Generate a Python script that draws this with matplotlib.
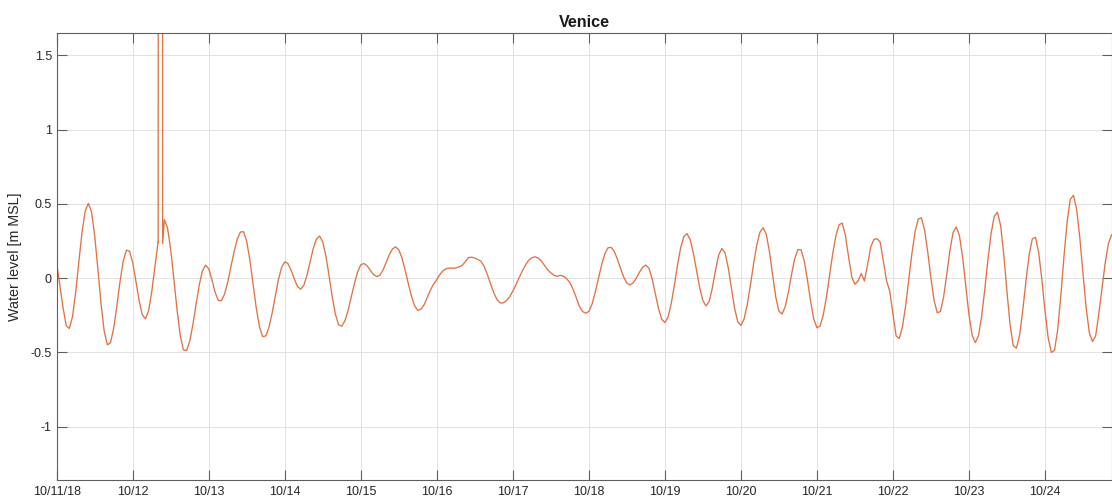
import numpy as np
import pandas as pd
import matplotlib
matplotlib.use("Agg")
import matplotlib.pyplot as plt

# ---------------- data (hourly water level, m MSL, from 2018-10-11 00:00) ----------------
start = pd.Timestamp("2018-10-11 00:00")

level = [
    0.10, -0.05, -0.20, -0.32, -0.34, -0.259, -0.095, 0.111, 0.308, 0.451, 0.503, 0.445,
    0.284, 0.060, -0.173, -0.358, -0.450, -0.434, -0.338, -0.188, -0.023, 0.114, 0.188, 0.181,
    0.103, -0.020, -0.150, -0.246, -0.275, -0.222, -0.093, 0.077, 0.242, 3.0, 0.394, 0.335,
    0.190, -0.008, -0.216, -0.387, -0.484, -0.488, -0.425, -0.313, -0.177, -0.047, 0.048, 0.087,
    0.062, -0.010, -0.095, -0.151, -0.153, -0.108, -0.027, 0.074, 0.177, 0.261, 0.310, 0.312,
    0.246, 0.119, -0.041, -0.201, -0.327, -0.394, -0.390, -0.333, -0.237, -0.122, -0.011, 0.072,
    0.109, 0.098, 0.053, -0.006, -0.056, -0.075, -0.050, 0.017, 0.109, 0.199, 0.262, 0.283,
    0.243, 0.147, 0.014, -0.127, -0.245, -0.315, -0.324, -0.287, -0.218, -0.128, -0.036, 0.041,
    0.089, 0.098, 0.082, 0.052, 0.024, 0.010, 0.018, 0.053, 0.104, 0.157, 0.196, 0.210,
    0.190, 0.135, 0.054, -0.037, -0.123, -0.187, -0.218, -0.21, -0.18, -0.13, -0.08, -0.04,
    -0.01, 0.025, 0.05, 0.063, 0.068, 0.066, 0.067, 0.075, 0.085, 0.11, 0.138, 0.14,
    0.135, 0.125, 0.112, 0.075, 0.021, -0.041, -0.100, -0.145, -0.168, -0.167, -0.152, -0.125,
    -0.088, -0.044, 0.003, 0.048, 0.088, 0.119, 0.137, 0.143, 0.135, 0.115, 0.085, 0.055,
    0.035, 0.018, 0.012, 0.018, 0.012, -0.005, -0.03, -0.075, -0.13, -0.19, -0.225, -0.237,
    -0.225, -0.176, -0.098, -0.005, 0.087, 0.160, 0.203, 0.207, 0.180, 0.128, 0.066, 0.007,
    -0.034, -0.047, -0.033, 0.000, 0.040, 0.073, 0.087, 0.065, -0.007, -0.107, -0.206, -0.277,
    -0.300, -0.263, -0.173, -0.048, 0.088, 0.205, 0.280, 0.299, 0.258, 0.167, 0.050, -0.066,
    -0.152, -0.188, -0.158, -0.065, 0.054, 0.156, 0.199, 0.169, 0.070, -0.067, -0.202, -0.295,
    -0.319, -0.276, -0.180, -0.048, 0.095, 0.221, 0.308, 0.339, 0.296, 0.179, 0.023, -0.126,
    -0.223, -0.242, -0.192, -0.094, 0.025, 0.131, 0.192, 0.190, 0.116, -0.012, -0.155, -0.275,
    -0.335, -0.323, -0.250, -0.129, 0.018, 0.165, 0.286, 0.359, 0.370, 0.287, 0.142, 0.008,
    -0.042, -0.02, 0.03, -0.02, 0.09, 0.21, 0.26, 0.265, 0.24, 0.11, -0.02, -0.09,
    -0.24, -0.39, -0.407, -0.329, -0.188, -0.011, 0.167, 0.313, 0.398, 0.405, 0.323, 0.173,
    -0.002, -0.152, -0.234, -0.225, -0.128, 0.026, 0.188, 0.307, 0.344, 0.284, 0.138, -0.055,
    -0.246, -0.385, -0.435, -0.389, -0.260, -0.076, 0.126, 0.302, 0.416, 0.443, 0.352, 0.154,
    -0.092, -0.317, -0.456, -0.472, -0.382, -0.216, -0.019, 0.157, 0.264, 0.274, 0.174, -0.008,
    -0.220, -0.402, -0.501, -0.487, -0.349, -0.120, 0.146, 0.381, 0.531, 0.557, 0.462, 0.271,
    0.030, -0.201, -0.368, -0.428, -0.39, -0.24, -0.07, 0.10, 0.23, 0.29,
]

# extra readings around the sensor glitch (hours from start, level)
spike_hours = [32.04, 32.06, 33.42, 33.45]
spike_level = [0.24, 3.0, 3.0, 0.233]

day_labels = ["10/11/18", "10/12", "10/13", "10/14", "10/15", "10/16", "10/17",
              "10/18", "10/19", "10/20", "10/21", "10/22", "10/23", "10/24"]
y_ticks = [-1, -0.5, 0, 0.5, 1, 1.5]
y_tick_labels = ["-1", "-0.5", "0", "0.5", "1", "1.5"]

title = "Venice"
ylabel = "Water level [m MSL]"

# ---------------- build series ----------------
hours = np.concatenate([np.arange(len(level), dtype=float), np.array(spike_hours)])
vals = np.concatenate([np.array(level), np.array(spike_level)])
order = np.argsort(hours, kind="stable")
times = (start + pd.to_timedelta(hours[order], unit="h")).to_pydatetime()
vals = vals[order]

# ---------------- figure ----------------
plt.rcParams["font.family"] = ["Liberation Sans", "DejaVu Sans"]
W, H = 1112, 497
fig = plt.figure(figsize=(W / 100, H / 100), dpi=100)
ax = fig.add_axes([56.7 / W, 1 - 480 / H, (1111.5 - 56.7) / W, (480 - 33) / H])

ax.plot(times, vals, color="#E07245", lw=0.95, solid_joinstyle="round")

ax.set_xlim(start.to_pydatetime(), (start + pd.Timedelta(hours=333)).to_pydatetime())
ax.set_ylim(-1.36, 1.65)

tick_times = [(start + pd.Timedelta(days=i)).to_pydatetime() for i in range(len(day_labels))]
ax.set_xticks(tick_times)
ax.set_xticklabels(day_labels)
ax.set_yticks(y_ticks)
ax.set_yticklabels(y_tick_labels)

ax.grid(True, color="#E2E2E2", lw=0.7)
ax.set_axisbelow(True)

for sp in ax.spines.values():
    sp.set_color("#5E5E5E")
    sp.set_linewidth(0.8)

ax.tick_params(axis="both", which="major", direction="in", length=7.5, width=0.8,
               color="#5E5E5E", labelcolor="#262626", labelsize=9,
               top=True, right=True)
ax.tick_params(axis="x", pad=4.5)
ax.tick_params(axis="y", pad=3.5)

ax.set_title(title, fontsize=11.6, fontweight="bold", color="#1A1A1A", pad=4.5)
ax.set_ylabel(ylabel, fontsize=10.3, color="#262626", labelpad=6)

fig.savefig("out.png", dpi=100)
